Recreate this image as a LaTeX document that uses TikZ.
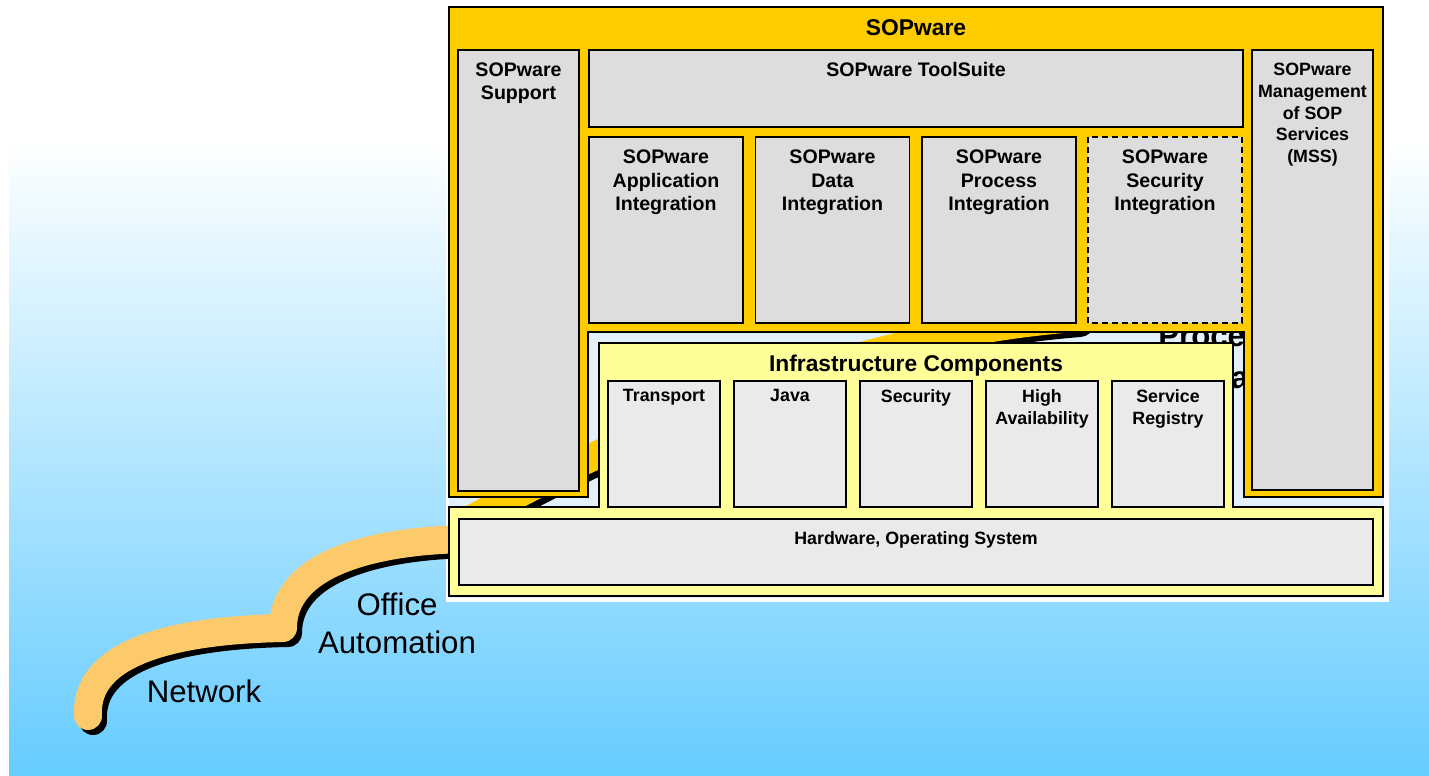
\documentclass[tikz,border=0pt]{standalone}
\usepackage{fontspec}
\setmainfont{Liberation Sans}
\usetikzlibrary{calc}

\definecolor{sopyellow}{HTML}{FFCC00}
\definecolor{infrayellow}{HTML}{FFFF99}
\definecolor{modgray}{HTML}{DDDDDD}
\definecolor{compgray}{HTML}{EAEAEA}
\definecolor{skyblue}{HTML}{66CCFF}
\definecolor{gapblue}{HTML}{E2F0FC}
\definecolor{pathorange}{HTML}{FCCA6A}

\begin{document}
\begin{tikzpicture}[x=0.5pt, y=-0.5pt,
    sopframe/.style={draw=black, line width=1pt, fill=sopyellow},
    infraframe/.style={draw=black, line width=1pt, fill=infrayellow},
    modbox/.style={draw=black, line width=0.8pt, fill=modgray},
    plainedge/.style={solid},
    planededge/.style={dash pattern=on 3pt off 2pt},
    compbox/.style={draw=black, line width=0.8pt, fill=compgray},
    modtext/.style={anchor=north, inner sep=0pt, align=center, font=\fontsize{9.8}{11.8}\selectfont\bfseries},
    comptext/.style={anchor=north, inner sep=0pt, align=center, font=\fontsize{8.9}{11.1}\selectfont\bfseries},
    headtext/.style={anchor=north, inner sep=0pt, align=center, font=\fontsize{11.4}{13}\selectfont\bfseries},
    pathtext/.style={anchor=north, inner sep=0pt, align=center, font=\fontsize{15.6}{19}\selectfont},
    road/.style={line width=14pt, line cap=round, line join=round}]

	% 1 unit = 1 pixel of the slide
	\useasboundingbox (0,0) rectangle (1429,776);

	% slide background
	\fill[white] (0,0) rectangle (1429,776);
	\shade[top color=white, bottom color=skyblue] (9,140) rectangle (1429,776);

	% frame of the architecture picture
	\fill[white] (446,0) rectangle (1389,602);
	\fill[gapblue] (449,7) rectangle (1384,598);

	% the road continues behind the picture
	\begin{scope}
		\clip (449,7) rectangle (1384,598);
		\draw[road, black, xshift=2.5pt, yshift=-2.5pt] (448,532) .. controls (560,470) and (800,340) .. (1075,318)
			.. controls (1078,280) and (1160,262) .. (1260,258);
		\draw[road, sopyellow] (448,532) .. controls (560,470) and (800,340) .. (1075,318)
			.. controls (1078,280) and (1160,262) .. (1260,258);
		\node[pathtext, font=\fontsize{15.6}{21}\selectfont\bfseries] (procauto) at (1219,325) {Process\\Automation};
	\end{scope}

	% visible part of the road
	\draw[road, black, xshift=2.5pt, yshift=-2.5pt] (88,716) .. controls (84,650) and (180,630) .. (283,628)
		.. controls (283,565) and (370,540) .. (470,539);
	\draw[road, pathorange] (88,716) .. controls (84,650) and (180,630) .. (283,628)
		.. controls (283,565) and (370,540) .. (470,539);
	\node[pathtext] (network) at (204,679) {Network};
	\node[pathtext] (office) at (397,592) {Office\\Automation};

	% SOPware frame with the cut out for the infrastructure
	\draw[sopframe] (449,7) -- (1383,7) -- (1383,497) -- (1244,497) -- (1244,332)
		-- (588,332) -- (588,497) -- (449,497) -- cycle;
	\node[headtext] (sopware) at (916,19) {SOPware};

	% infrastructure and hardware
	\draw[infraframe] (449,507) -- (599,507) -- (599,343) -- (1233,343) -- (1233,507)
		-- (1383,507) -- (1383,596) -- (449,596) -- cycle;
	\node[headtext] (infra) at (916,355) {Infrastructure Components};

	% SOPware modules
	\draw[modbox] (458,50) rectangle (579,491);
	\node[modtext] (support) at (518.5,62) {SOPware\\Support};
	\draw[modbox] (589,50) rectangle (1243,127);
	\node[modtext] (toolsuite) at (916,62) {SOPware ToolSuite};
	\draw[modbox] (1252,50) rectangle (1373,490);
	\node[comptext, font=\fontsize{8.9}{10.85}\selectfont\bfseries] (mss) at (1312.5,63)
		{SOPware\\Management\\of SOP\\Services\\(MSS)};

	\foreach \xl/\nm/\st/\txt in {589/appint/plainedge/{SOPware\\Application\\Integration},
			755.5/dataint/plainedge/{SOPware\\Data\\Integration},
			922/procint/plainedge/{SOPware\\Process\\Integration},
			1088/secint/planededge/{SOPware\\Security\\Integration}}
	{
		\draw[modbox, \st] (\xl,137) rectangle (\xl+154,323);
		\node[modtext] (\nm) at (\xl+77,149.5) {\txt};
	}

	% infrastructure components
	\foreach \xl/\nm/\txt in {608/transport/Transport, 734/java/Java, 860/security/Security,
			986/highav/{High\\Availability}, 1112/registry/{Service\\Registry}}
	{
		\draw[compbox] (\xl,381) rectangle (\xl+112,507);
		\node[comptext] (\nm) at (\xl+56,389) {\txt};
	}

	% hardware
	\draw[compbox] (459,519) rectangle (1373,585);
	\node[comptext] (hardware) at (916,531) {Hardware, Operating System};

\end{tikzpicture}
\end{document}
